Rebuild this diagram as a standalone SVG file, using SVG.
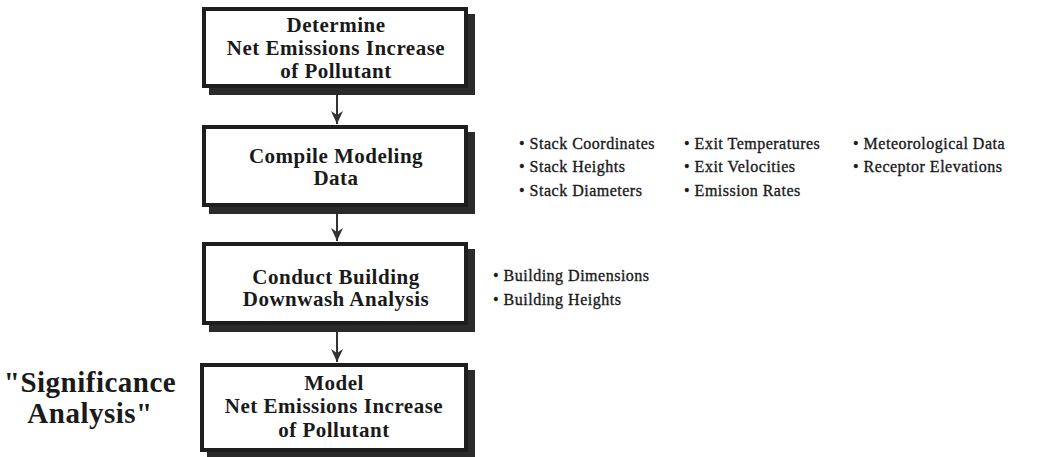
<svg xmlns="http://www.w3.org/2000/svg" width="1054" height="457" viewBox="0 0 1054 457">
<defs>
<style>
.shadow{fill:#2b2b2b}
.box{fill:#fff;stroke:#1e1e1e;stroke-width:4}
.t{font-family:"Liberation Serif","Times New Roman",serif;font-weight:bold;font-size:21px;fill:#1a1a1a;text-anchor:middle;letter-spacing:0.5px}
.big{font-family:"Liberation Serif","Times New Roman",serif;font-weight:bold;font-size:29px;fill:#1a1a1a;text-anchor:middle;letter-spacing:0.5px}
.b{font-family:"Liberation Serif","Times New Roman",serif;font-size:16px;fill:#1a1a1a;stroke:#1a1a1a;stroke-width:0.35;letter-spacing:0.5px}
.c{stroke:#333;stroke-width:2;fill:none}
.ah{fill:#333}
</style>
</defs>
<rect width="1054" height="457" fill="#fff"/>
<g id="connectors">
<line class="c" x1="337" y1="95" x2="337" y2="124"/>
<path class="ah" d="M331,111 L337,115 L343,111 L337,124 Z"/>
<line class="c" x1="337" y1="214" x2="337" y2="241"/>
<path class="ah" d="M331,228 L337,232 L343,228 L337,241 Z"/>
<line class="c" x1="337" y1="332" x2="337" y2="362"/>
<path class="ah" d="M331,349 L337,353 L343,349 L337,362 Z"/>
</g>
<g id="node1">
<rect class="shadow" x="209" y="14" width="266" height="81"/>
<rect class="box" x="204" y="9" width="262" height="77"/>
<text class="t" x="336" y="32">Determine</text>
<text class="t" x="336" y="55">Net Emissions Increase</text>
<text class="t" x="336" y="78">of Pollutant</text>
</g>
<g id="node2">
<rect class="shadow" x="209" y="132" width="266" height="82"/>
<rect class="box" x="204" y="127" width="262" height="78"/>
<text class="t" x="336" y="163">Compile Modeling</text>
<text class="t" x="336" y="185">Data</text>
</g>
<g id="node3">
<rect class="shadow" x="209" y="249" width="266" height="83"/>
<rect class="box" x="204" y="244" width="262" height="79"/>
<text class="t" x="336" y="284">Conduct Building</text>
<text class="t" x="336" y="306">Downwash Analysis</text>
</g>
<g id="node4">
<rect class="shadow" x="207" y="370" width="268" height="87"/>
<rect class="box" x="202" y="365" width="264" height="85"/>
<text class="t" x="334" y="390">Model</text>
<text class="t" x="334" y="413">Net Emissions Increase</text>
<text class="t" x="334" y="437">of Pollutant</text>
</g>
<g id="label-significance">
<text class="big" x="90" y="392">"Significance</text>
<text class="big" x="90" y="423">Analysis"</text>
</g>
<g id="modeling-data-list">
<text class="b" x="519" y="149">• Stack Coordinates</text>
<text class="b" x="519" y="172">• Stack Heights</text>
<text class="b" x="519" y="196">• Stack Diameters</text>
<text class="b" x="684" y="149">• Exit Temperatures</text>
<text class="b" x="684" y="172">• Exit Velocities</text>
<text class="b" x="684" y="196">• Emission Rates</text>
<text class="b" x="853" y="149">• Meteorological Data</text>
<text class="b" x="853" y="172">• Receptor Elevations</text>
</g>
<g id="downwash-list">
<text class="b" x="493" y="281">• Building Dimensions</text>
<text class="b" x="493" y="305">• Building Heights</text>
</g>
</svg>
